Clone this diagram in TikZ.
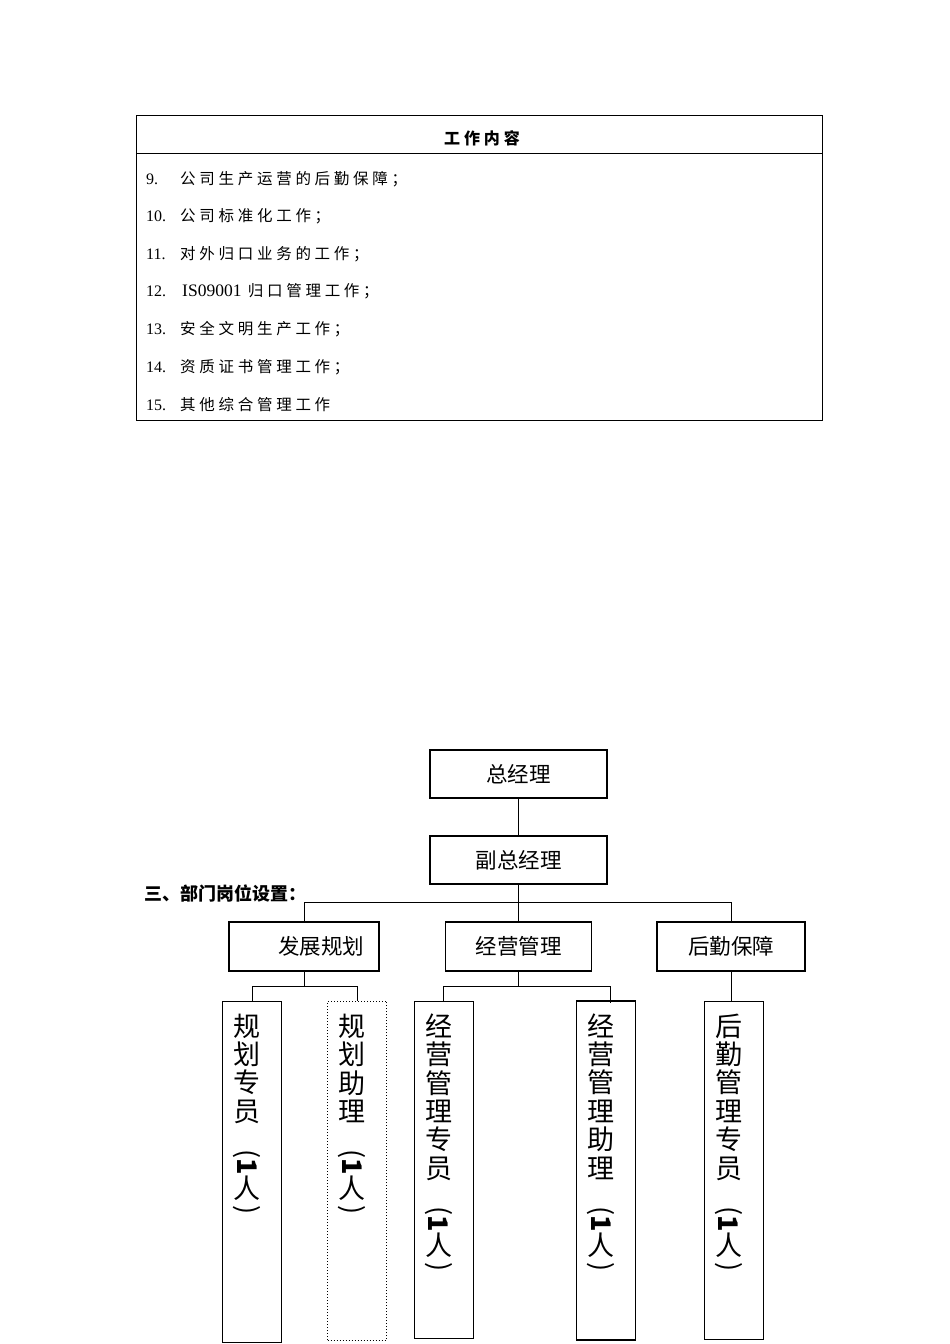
\documentclass[tikz,border=0pt]{standalone}
\usepackage{fontspec}
\usepackage{graphicx}
\newfontfamily\cjk{Noto Sans CJK SC}
\newfontfamily\cjksp[LetterSpace=24]{Noto Sans CJK SC}
\newfontfamily\numfont{Liberation Serif}
\lineskiplimit=-100pt
\newcommand\vlpar{\rotatebox[origin=c]{-90}{(}}
\newcommand\vrpar{\rotatebox[origin=c]{-90}{)}}
\newcommand\vone{\rotatebox[origin=c]{-90}{\bfseries 1}}
\newcommand\vtail{\\[12.6pt]\vlpar\\[-14.4pt]\vone\\[-6.4pt]人\\[-8.4pt]\vrpar}
\begin{document}
\begin{tikzpicture}[x=1pt,y=-1pt,
  every node/.style={inner sep=0pt},
  tableframe/.style={draw, line width=0.8pt},
  orgbox/.style={draw, line width=1.1pt, minimum width=177pt, minimum height=48pt, font=\cjk\fontsize{21.5}{24}\selectfont},
  deptbox/.style={draw, line width=1.1pt, minimum height=49pt, font=\cjk\fontsize{21.5}{24}\selectfont},
  postbox/.style={draw, line width=1pt, minimum width=59pt},
  vtext/.style={align=center, font=\cjk\fontsize{27}{28.4}\selectfont, anchor=north},
  conn/.style={line width=0.8pt},
  rowtext/.style={anchor=base west, font=\cjksp\fontsize{15.5}{18}\selectfont},
  rownum/.style={anchor=base west, font=\numfont\fontsize{16}{18}\selectfont},
  boldcjk/.style={font=\cjk\bfseries\fontsize{18}{20}\selectfont}]
\useasboundingbox (0,0) rectangle (950,1344);

% ---- table ----
\node[tableframe, minimum width=686pt, minimum height=305pt] (tbl) at (479,267.5) {};
\coordinate (hl) at (136,153);
\coordinate (hr) at (822,153);
\draw[line width=0.8pt] (hl) -- (hr);
\node[font=\cjksp\bfseries\fontsize{16}{20}\selectfont] (hdr) at (482,138) {工作内容};

\node[rownum] (n9) at (146,184) {9.};
\node[rowtext] (r9) at (180,184) {公司生产运营的后勤保障；};
\node[rownum] (n10) at (146,221) {10.};
\node[rowtext] (r10) at (180,221) {公司标准化工作；};
\node[rownum] (n11) at (146,259) {11.};
\node[rowtext] (r11) at (180,259) {对外归口业务的工作；};
\node[rownum] (n12) at (146,296) {12.};
\node[rownum, font=\numfont\fontsize{17.5}{18}\selectfont] (iso) at (182,296) {IS09001};
\node[rowtext] (r12) at ([xshift=6pt]iso.base east) {归口管理工作；};
\node[rownum] (n13) at (146,334) {13.};
\node[rowtext] (r13) at (180,334) {安全文明生产工作；};
\node[rownum] (n14) at (146,372) {14.};
\node[rowtext] (r14) at (180,372) {资质证书管理工作；};
\node[rownum] (n15) at (146,410) {15.};
\node[rowtext] (r15) at (180,410) {其他综合管理工作};

% ---- org chart ----
\node[orgbox] (gm) at (518.5,774) {总经理};
\node[orgbox] (dgm) at (518.5,860) {副总经理};
\node[boldcjk, anchor=west] (sec) at (144,893) {三、部门岗位设置：};

\node[deptbox, minimum width=150pt] (d1) at (304,946.5) {\hspace*{34pt}发展规划};
\node[deptbox, minimum width=146pt] (d2) at (518.5,946.5) {经营管理};
\node[deptbox, minimum width=148pt] (d3) at (731,946.5) {后勤保障};

\node[postbox, minimum height=341pt] (p1) at (252,1171.5) {};
\node[postbox, dotted, line width=0.6pt, minimum height=339pt] (p2) at (357,1170.5) {};
\node[postbox, minimum height=337pt] (p3) at (443.5,1169.5) {};
\node[postbox, line width=1.7pt, minimum height=339pt] (p4) at (606,1170.5) {};
\node[postbox, minimum height=338pt] (p5) at (733.5,1170) {};

\draw[conn] (gm.south) -- (dgm.north);
\draw[conn] (dgm.south) -- (d2.north);
\coordinate (bus) at (518.5,902);
\draw[conn] (d1.north) -- (d1.north |- bus) -- (d3.north |- bus) -- (d3.north);
\draw[conn] (d1.south) -- ++(0,15) coordinate (b1);
\draw[conn] (p1.north) -- (p1.north |- b1) -- (p2.north |- b1) -- (p2.north);
\draw[conn] (d2.south) -- ++(0,15) coordinate (b2);
\coordinate (p4in) at ([xshift=4pt,yshift=-3pt]p4.north);
\draw[conn] (p3.north) -- (p3.north |- b2) -- (p4in |- b2) -- (p4in);
\draw[conn] (d3.south) -- (d3.south |- p5.north);

\node[vtext] (t1) at ([xshift=-5pt,yshift=-13pt]p1.north) {规\\划\\专\\员\vtail};
\node[vtext] (t2) at ([xshift=-5pt,yshift=-13pt]p2.north) {规\\划\\助\\理\vtail};
\node[vtext] (t3) at ([xshift=-5pt,yshift=-13pt]p3.north) {经\\营\\管\\理\\专\\员\vtail};
\node[vtext] (t4) at ([xshift=-5pt,yshift=-13pt]p4.north) {经\\营\\管\\理\\助\\理\vtail};
\node[vtext] (t5) at ([xshift=-5pt,yshift=-13pt]p5.north) {后\\勤\\管\\理\\专\\员\vtail};
\end{tikzpicture}
\end{document}
